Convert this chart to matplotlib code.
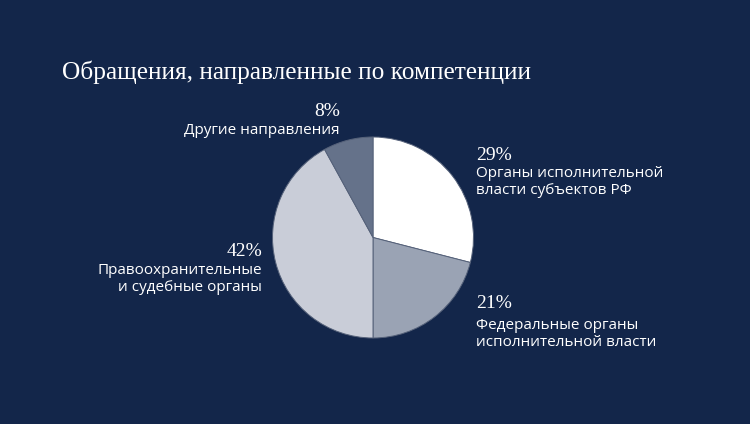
import matplotlib
matplotlib.use("Agg")
import matplotlib.pyplot as plt

# slices, clockwise from 12 o'clock
labels = ["Органы исполнительной\nвласти субъектов РФ",
          "Федеральные органы\nисполнительной власти",
          "Правоохранительные\nи судебные органы",
          "Другие направления"]
shares = [29, 21, 42, 8]
colors = ["#ffffff", "#9aa3b4", "#c9cdd8", "#65728a"]

BG = "#13264a"
W, H = 750, 424

fig = plt.figure(figsize=(W / 100, H / 100), dpi=100, facecolor=BG)

cx, cy, r = 373, 237.5, 101.5
ax = fig.add_axes([(cx - r) / W, (H - cy - r) / H, 2 * r / W, 2 * r / H])
ax.pie(shares, colors=colors, startangle=90, counterclock=False, radius=1,
       wedgeprops=dict(edgecolor="#56627a", linewidth=0.7))
ax.set_xlim(-1.01, 1.01)
ax.set_ylim(-1.01, 1.01)
ax.axis("off")


def px(x, y):
    return x / W, 1 - y / H


serif = ["Liberation Serif", "DejaVu Serif"]
sans = ["Open Sans", "DejaVu Sans"]

fig.text(*px(62, 72), "Обращения, направленные по компетенции", color="white",
         fontsize=18.3, family=serif, ha="left", va="center")

# (pct x, pct y, label y, ha) per slice, in pixels
spots = [(476, 156, 182, "left"),
         (476, 303, 334, "left"),
         (262, 252, 279, "right"),
         (340, 111, 130, "right")]
for (x, yp, yl, ha), lab, s in zip(spots, labels, shares):
    fig.text(*px(x, yp), f"{s}%", color="white", fontsize=14, family=serif,
             ha=ha, va="center")
    fig.text(*px(x, yl), lab, color="white", fontsize=11, family=sans,
             ha=ha, va="center", linespacing=1.2, multialignment=ha)

fig.savefig("out.png", dpi=100, facecolor=BG)
